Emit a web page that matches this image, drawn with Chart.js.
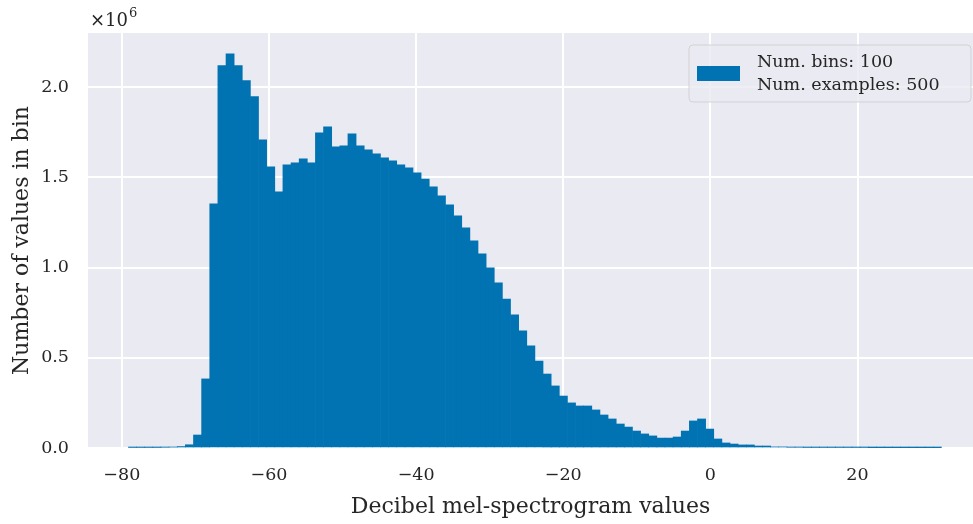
<!DOCTYPE html>
<html>
<head>
<meta charset="utf-8">
<script src="https://cdn.jsdelivr.net/npm/chart.js@4"></script>
<style>
  html, body { margin: 0; padding: 0; background: #ffffff; }
  #wrap { width: 973px; height: 524px; }
</style>
</head>
<body>
<div id="wrap"><canvas id="histCanvas" width="973" height="524"></canvas></div>
<script>
// histogram of dB values, 100 bins between binMin and binMax
const binMin = -79.1;
const binMax = 31.4;
const numBins = 100;
const numExamples = 500;

// counts per bin, in millions
const binCounts = [
  0.003, 0.003, 0.003, 0.003, 0.004, 0.005, 0.008, 0.018, 0.072, 0.383,
  1.353, 2.119, 2.185, 2.119, 2.036, 1.947, 1.708, 1.558, 1.420, 1.570,
  1.581, 1.603, 1.581, 1.747, 1.780, 1.669, 1.675, 1.741, 1.675, 1.653,
  1.631, 1.608, 1.592, 1.570, 1.553, 1.525, 1.490, 1.448, 1.398, 1.348,
  1.287, 1.220, 1.148, 1.076, 0.998, 0.915, 0.826, 0.738, 0.649, 0.566,
  0.482, 0.410, 0.344, 0.288, 0.250, 0.233, 0.233, 0.211, 0.183, 0.161,
  0.133, 0.116, 0.094, 0.078, 0.067, 0.055, 0.055, 0.061, 0.094, 0.150,
  0.161, 0.105, 0.050, 0.028, 0.022, 0.017, 0.017, 0.011, 0.011, 0.006,
  0.006, 0.004, 0.004, 0.003, 0.003, 0.003, 0.003, 0.003, 0.003, 0.003,
  0.003, 0.002, 0.002, 0.002, 0.002, 0.002, 0.002, 0.002, 0.002, 0.002
];

const xTicks = [-80, -60, -40, -20, 0, 20];
const yTicks = [0.0, 0.5, 1.0, 1.5, 2.0];

const legendLines = ['Num. bins: ' + numBins, 'Num. examples: ' + numExamples];

const barColor = '#0173b2';
const bgColor = '#eaeaf2';
const textColor = '#262626';
const fontFamily = '"DejaVu Serif", serif';

const binWidth = (binMax - binMin) / numBins;
const points = binCounts.map((c, i) => ({ x: binMin + (i + 0.5) * binWidth, y: c }));

// grey plot background
const plotBackground = {
  id: 'plotBackground',
  beforeDraw(chart) {
    const { ctx, chartArea: a } = chart;
    ctx.save();
    ctx.fillStyle = bgColor;
    ctx.fillRect(a.left, a.top, a.right - a.left, a.bottom - a.top);
    ctx.restore();
  }
};

// "×10^6" multiplier over the y axis + legend box
const extras = {
  id: 'extras',
  afterDraw(chart) {
    const { ctx, chartArea: a } = chart;
    ctx.save();
    ctx.fillStyle = textColor;
    ctx.textBaseline = 'alphabetic';
    ctx.textAlign = 'left';
    ctx.font = '18px ' + fontFamily;
    ctx.fillText('×10', a.left + 2, 26);
    const w = ctx.measureText('×10').width;
    ctx.font = '13px ' + fontFamily;
    ctx.fillText('6', a.left + 2 + w + 1, 17);

    // legend
    const lx = 689, ly = 45, lw = 282, lh = 57;
    ctx.beginPath();
    ctx.roundRect(lx, ly, lw, lh, 4);
    ctx.fillStyle = 'rgba(234,234,242,0.8)';
    ctx.fill();
    ctx.strokeStyle = 'rgba(204,204,204,0.8)';
    ctx.lineWidth = 1;
    ctx.stroke();
    ctx.fillStyle = barColor;
    ctx.fillRect(697, 66, 43, 15);
    ctx.fillStyle = textColor;
    ctx.font = '17.5px ' + fontFamily;
    ctx.fillText(legendLines[0], 757, 67);
    ctx.fillText(legendLines[1], 757, 90);
    ctx.restore();
  }
};

const ctx = document.getElementById('histCanvas').getContext('2d');
const histChart = new Chart(ctx, {
  type: 'bar',
  data: {
    datasets: [{
      label: legendLines.join(' '),
      data: points,
      backgroundColor: barColor,
      borderWidth: 0,
      barPercentage: 1.0,
      categoryPercentage: 1.0
    }]
  },
  plugins: [plotBackground, extras],
  options: {
    responsive: false,
    animation: false,
    layout: { padding: { top: 33, right: 0, left: 0, bottom: 0 } },
    scales: {
      x: {
        type: 'linear',
        min: -84.6,
        max: 35.7,
        offset: false,
        afterFit(scale) { scale.height = 76; },
        afterBuildTicks(scale) { scale.ticks = xTicks.map(v => ({ value: v })); },
        grid: { color: '#ffffff', lineWidth: 2, drawTicks: false, offset: false },
        border: { display: false },
        ticks: {
          color: textColor,
          font: { family: fontFamily, size: 17.5 },
          padding: 17,
          maxRotation: 0,
          callback: v => (v < 0 ? '\u2212' + Math.abs(v) : String(v))
        },
        title: {
          display: true,
          text: 'Decibel mel-spectrogram values',
          color: textColor,
          font: { family: fontFamily, size: 22 },
          padding: { top: 0, bottom: 4 }
        }
      },
      y: {
        min: 0,
        max: 2.30,
        afterFit(scale) { scale.width = 88; },
        afterBuildTicks(scale) { scale.ticks = yTicks.map(v => ({ value: v })); },
        grid: { color: '#ffffff', lineWidth: 2, drawTicks: false },
        border: { display: false },
        ticks: {
          color: textColor,
          font: { family: fontFamily, size: 17.5 },
          padding: 19,
          callback: v => v.toFixed(1)
        },
        title: {
          display: true,
          text: 'Number of values in bin',
          color: textColor,
          font: { family: fontFamily, size: 22 },
          padding: { top: 9, bottom: 0 }
        }
      }
    },
    plugins: {
      legend: { display: false },
      tooltip: { enabled: false }
    }
  }
});
</script>
</body>
</html>
